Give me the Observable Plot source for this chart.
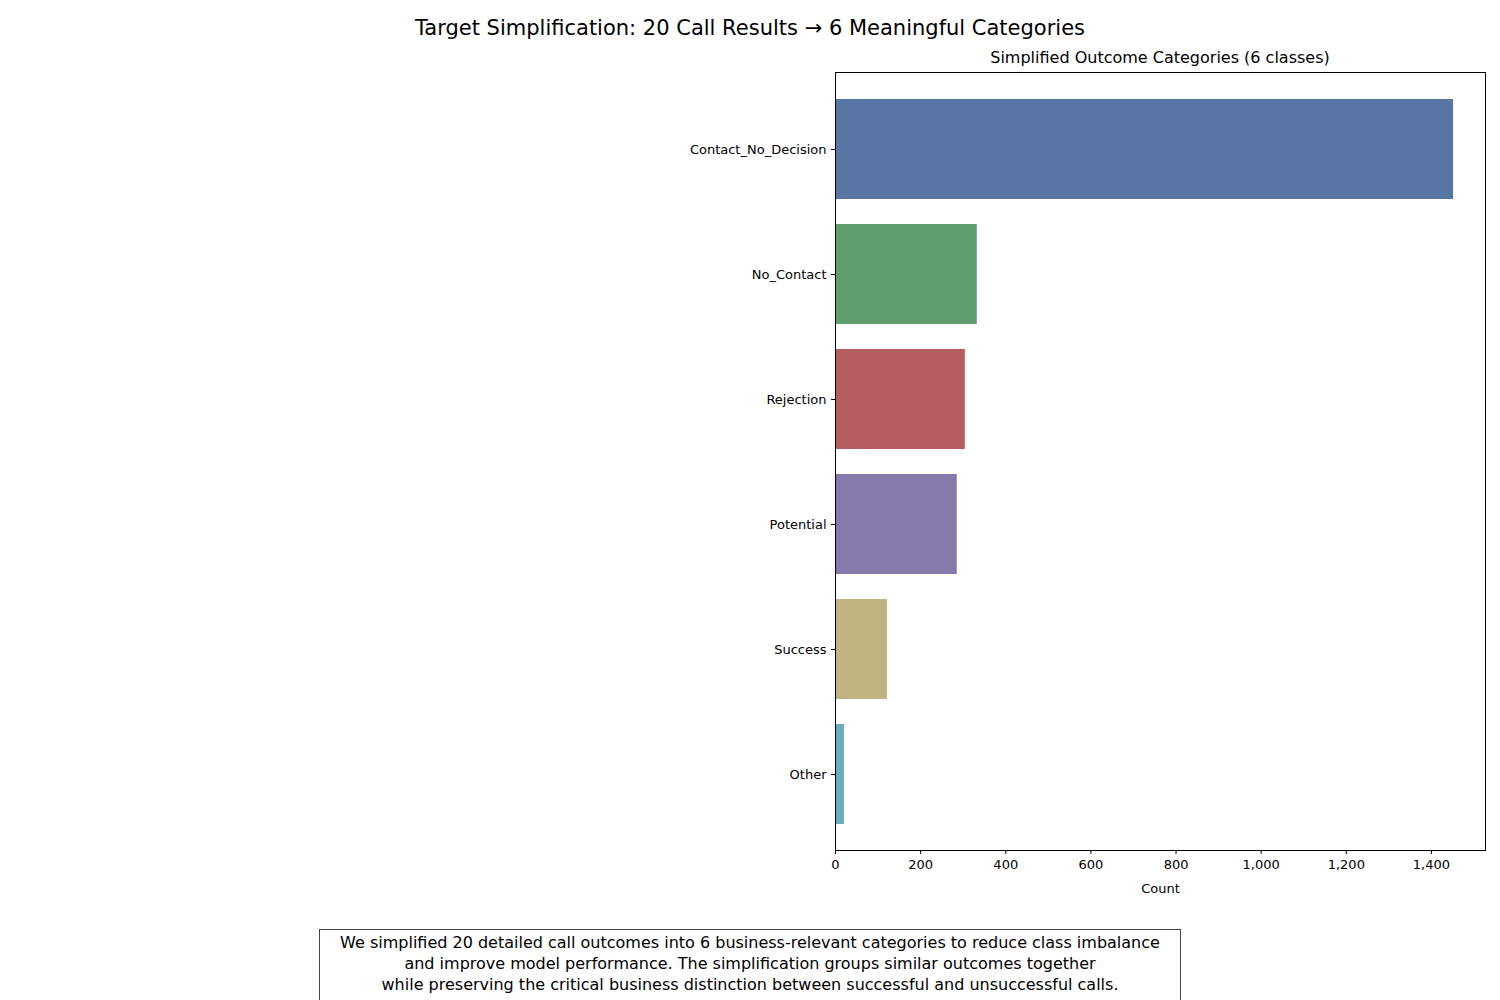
<!DOCTYPE html>
<html>
<head>
<meta charset="utf-8">
<script src="https://cdn.jsdelivr.net/npm/d3@7"></script>
<script src="https://cdn.jsdelivr.net/npm/@observablehq/plot@0.6"></script>
<style>
  body { margin: 0; font-family: "DejaVu Sans", sans-serif; background: #fff; }
  #wrap { position: relative; width: 1500px; height: 1000px; }
  #title { position: absolute; top: 16px; left: 0; width: 1500px; text-align: center; font-size: 21px; }
  #sub { position: absolute; top: 48px; left: 835px; width: 650px; text-align: center; font-size: 16px; }
  #chart { position: absolute; top: 0; left: 0; }
  #caption { position: absolute; top: 929px; left: 319px; width: 860px; border: 1px solid #444;
    text-align: center; font-size: 16px; line-height: 21px; padding: 2px 0 6px 0; background: #fff; }
</style>
</head>
<body>
<div id="wrap">
  <div id="chart"></div>
  <div id="title">Target Simplification: 20 Call Results → 6 Meaningful Categories</div>
  <div id="sub">Simplified Outcome Categories (6 classes)</div>
  <div id="caption">We simplified 20 detailed call outcomes into 6 business-relevant categories to reduce class imbalance<br>and improve model performance. The simplification groups similar outcomes together<br>while preserving the critical business distinction between successful and unsuccessful calls.</div>
</div>
<script>
// categories and counts
const categories = ["Contact_No_Decision", "No_Contact", "Rejection", "Potential", "Success", "Other"];
const counts = [1452, 333, 305, 286, 122, 21];
const colors = ["#5975a4", "#5f9e6e", "#b55d60", "#857aab", "#c1b37f", "#6bacc1"];

const data = categories.map((c, i) => ({category: c, count: counts[i]}));

let chart = Plot.plot({
  width: 1500,
  height: 900,
  marginLeft: 835,
  marginRight: 15,
  marginTop: 72,
  marginBottom: 50,
  style: {fontSize: "13px", fontFamily: "DejaVu Sans, sans-serif", color: "#000"},
  x: {domain: [0, 1527], ticks: d3.range(0, 1401, 200), label: "Count", labelAnchor: "center", labelArrow: "none", labelOffset: 42, tickSize: 4},
  y: {domain: categories, padding: 0.2, align: 0.5, label: null, tickSize: 4},
  color: {domain: categories, range: colors},
  marks: [
    Plot.barX(data, {x: "count", y: "category", fill: "category"}),
    Plot.frame({stroke: "#000"})
  ]
});

d3.select("#chart").append(() => chart);
</script>
</body>
</html>
